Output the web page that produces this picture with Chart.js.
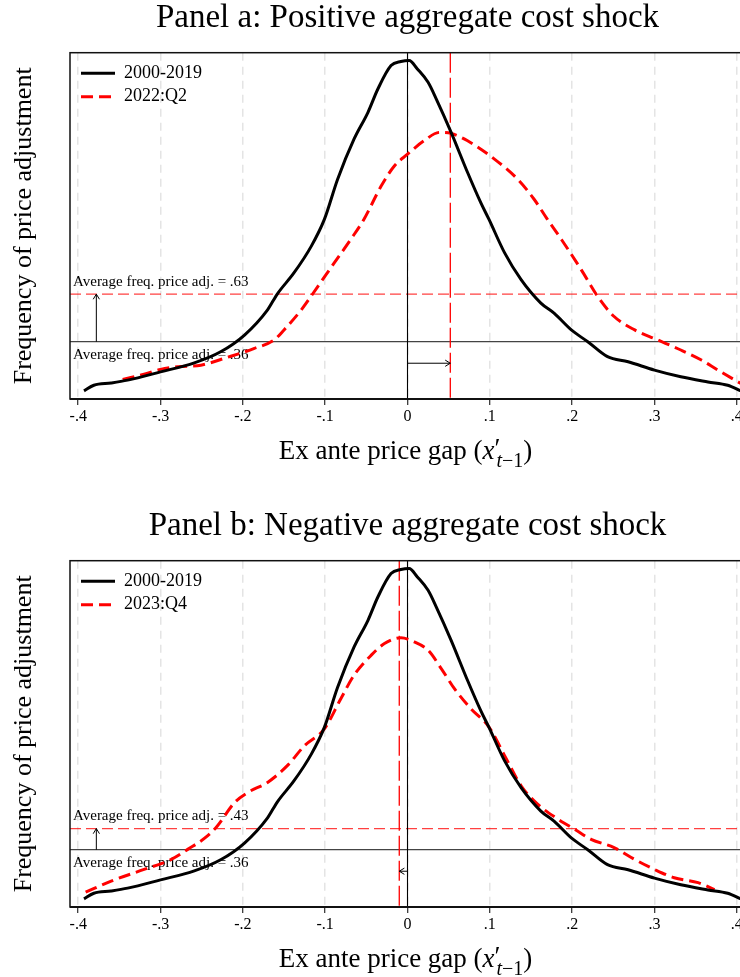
<!DOCTYPE html>
<html>
<head>
<meta charset="utf-8">
<script src="https://cdn.jsdelivr.net/npm/chart.js@4.4.1/dist/chart.umd.min.js"></script>
<style>
  html, body { margin: 0; padding: 0; background: #fff; }
  body { width: 740px; height: 977px; overflow: hidden; position: relative; }
  .panel { position: absolute; left: 0; width: 760px; height: 470px; }
</style>
</head>
<body>
<div class="panel" style="top:0"><canvas id="panelA" width="760" height="470"></canvas></div>
<div class="panel" style="top:508px"><canvas id="panelB" width="760" height="470"></canvas></div>
<script>
// 2000-2019 curve (same in both panels)
const baseX = [-0.393, -0.381, -0.360, -0.340, -0.300, -0.259, -0.227, -0.198, -0.170, -0.158, -0.138, -0.117, -0.101, -0.085, -0.065, -0.048, -0.036, -0.020, -0.008, 0.002, 0.012, 0.025, 0.035, 0.053, 0.073, 0.089, 0.099, 0.118, 0.138, 0.162, 0.178, 0.199, 0.219, 0.243, 0.268, 0.300, 0.332, 0.365, 0.389, 0.405];
const baseY = [0.081, 0.113, 0.126, 0.142, 0.189, 0.240, 0.303, 0.398, 0.541, 0.632, 0.750, 0.901, 1.054, 1.281, 1.509, 1.662, 1.794, 1.927, 1.950, 1.956, 1.908, 1.832, 1.737, 1.548, 1.320, 1.149, 1.054, 0.864, 0.712, 0.579, 0.522, 0.427, 0.360, 0.275, 0.246, 0.199, 0.161, 0.132, 0.113, 0.081];

// 2022:Q2 (panel a)
const q2X = [-0.346, -0.320, -0.300, -0.279, -0.251, -0.219, -0.186, -0.162, -0.150, -0.129, -0.109, -0.089, -0.069, -0.053, -0.032, -0.016, 0.000, 0.020, 0.039, 0.053, 0.073, 0.106, 0.134, 0.154, 0.170, 0.187, 0.211, 0.231, 0.251, 0.276, 0.304, 0.332, 0.357, 0.377, 0.405];
const q2Y = [0.146, 0.176, 0.203, 0.218, 0.227, 0.271, 0.322, 0.370, 0.427, 0.541, 0.673, 0.807, 0.940, 1.054, 1.243, 1.357, 1.424, 1.500, 1.548, 1.542, 1.500, 1.395, 1.281, 1.167, 1.054, 0.940, 0.769, 0.617, 0.503, 0.427, 0.370, 0.313, 0.256, 0.199, 0.123];

// 2023:Q4 (panel b)
const q4X = [-0.391, -0.360, -0.320, -0.287, -0.267, -0.243, -0.231, -0.210, -0.194, -0.170, -0.146, -0.125, -0.101, -0.081, -0.065, -0.044, -0.028, -0.008, 0.008, 0.025, 0.041, 0.057, 0.077, 0.099, 0.118, 0.138, 0.158, 0.183, 0.203, 0.223, 0.251, 0.276, 0.300, 0.324, 0.353, 0.373];
const q4Y = [0.119, 0.182, 0.248, 0.305, 0.362, 0.438, 0.495, 0.628, 0.685, 0.742, 0.837, 0.951, 1.046, 1.217, 1.350, 1.464, 1.530, 1.563, 1.540, 1.492, 1.388, 1.274, 1.160, 1.056, 0.894, 0.723, 0.619, 0.533, 0.476, 0.419, 0.372, 0.305, 0.248, 0.201, 0.173, 0.134];

const xTicks = [-0.4, -0.3, -0.2, -0.1, 0, 0.1, 0.2, 0.3, 0.4];
const xTickLabels = ["-.4", "-.3", "-.2", "-.1", "0", ".1", ".2", ".3", ".4"];

// y axis is unlabelled in the source: the average-frequency lines sit where they appear
const avgLevelsA = [0.36, 0.63];
const avgLevelsB = [0.36, 0.48];
const avgTextA = [".36", ".63"];
const avgTextB = [".36", ".43"];
const meanShiftA = 0.052;
const meanShiftB = -0.01;
const arrowX = -0.378;
const arrowY = 0.238;

const SERIF = '"Liberation Serif", "DejaVu Serif", serif';
const RED = "#ff0000";

function zip(xs, ys) {
  return xs.map((x, i) => ({ x: x, y: ys[i] }));
}

function drawArrow(ctx, x1, y1, x2, y2) {
  const ang = Math.atan2(y2 - y1, x2 - x1);
  const h = 6;
  ctx.beginPath();
  ctx.moveTo(x1, y1);
  ctx.lineTo(x2, y2);
  ctx.moveTo(x2 - h * Math.cos(ang - 0.55), y2 - h * Math.sin(ang - 0.55));
  ctx.lineTo(x2, y2);
  ctx.lineTo(x2 - h * Math.cos(ang + 0.55), y2 - h * Math.sin(ang + 0.55));
  ctx.stroke();
}

function overlay(cfg) {
  return {
    id: "overlay",
    beforeDatasetsDraw(chart) {
      const { ctx, chartArea: a, scales: { x, y } } = chart;
      const yBase = y.getPixelForValue(cfg.levels[0]);
      const yNew = y.getPixelForValue(cfg.levels[1]);
      ctx.save();
      // average frequency lines
      ctx.lineWidth = 1.2;
      ctx.strokeStyle = "#444";
      ctx.beginPath(); ctx.moveTo(a.left, yBase); ctx.lineTo(a.right, yBase); ctx.stroke();
      ctx.strokeStyle = "rgba(255,0,0,0.75)";
      ctx.setLineDash([11, 5]);
      ctx.beginPath(); ctx.moveTo(a.left, yNew); ctx.lineTo(a.right, yNew); ctx.stroke();
      // zero line and shifted mean
      ctx.setLineDash([]);
      ctx.strokeStyle = "#000";
      ctx.lineWidth = 1.1;
      const x0 = x.getPixelForValue(0);
      ctx.beginPath(); ctx.moveTo(x0, a.top); ctx.lineTo(x0, a.bottom); ctx.stroke();
      const xs = x.getPixelForValue(cfg.shift);
      ctx.strokeStyle = RED;
      ctx.lineWidth = 1.3;
      ctx.setLineDash([20, 5]);
      ctx.beginPath(); ctx.moveTo(xs, a.top); ctx.lineTo(xs, a.bottom); ctx.stroke();
      ctx.setLineDash([]);
      // arrows
      ctx.strokeStyle = "#000";
      ctx.lineWidth = 1;
      const xa = x.getPixelForValue(arrowX);
      drawArrow(ctx, xa, yBase, xa, yNew);
      const ya = y.getPixelForValue(arrowY);
      drawArrow(ctx, x0, ya, xs, ya);
      // labels
      ctx.fillStyle = "#000";
      ctx.font = "15px " + SERIF;
      ctx.textBaseline = "middle";
      ctx.textAlign = "left";
      ctx.fillText("Average freq. price adj. = " + cfg.texts[1], a.left + 3, yNew - 12.5);
      ctx.fillText("Average freq. price adj. = " + cfg.texts[0], a.left + 3, yBase + 13.5);
      ctx.restore();
    },
    afterDraw(chart) {
      const { ctx, chartArea: a } = chart;
      const cx = (a.left + a.right) / 2;
      ctx.save();
      // panel title, centred over the plot region
      ctx.fillStyle = "#000";
      ctx.font = "33px " + SERIF;
      ctx.textAlign = "center";
      ctx.textBaseline = "middle";
      ctx.fillText(cfg.title, cx, a.top - 34);
      // plot frame
      ctx.strokeStyle = "#111";
      ctx.lineWidth = 1.5;
      ctx.strokeRect(a.left, a.top, a.right - a.left, a.bottom - a.top);
      ctx.lineWidth = 2;
      ctx.beginPath(); ctx.moveTo(a.left, a.bottom); ctx.lineTo(a.right, a.bottom); ctx.stroke();
      // legend
      ctx.font = "18px " + SERIF;
      ctx.textAlign = "left";
      chart.data.datasets.forEach((ds, i) => {
        const yy = a.top + 20.6 + i * 23.4;
        ctx.strokeStyle = ds.borderColor;
        ctx.lineWidth = 3;
        ctx.setLineDash(ds.borderDash || []);
        ctx.beginPath(); ctx.moveTo(a.left + 11, yy); ctx.lineTo(a.left + 45, yy); ctx.stroke();
        ctx.setLineDash([]);
        ctx.fillStyle = "#000";
        ctx.fillText(ds.label, a.left + 54, yy);
      });
      // x axis title with math
      const cy = a.bottom + 51;
      const parts = [
        { t: "Ex ante price gap (", f: "27px " + SERIF, dy: 0 },
        { t: "x", f: "italic 27px " + SERIF, dy: 0 },
        { t: "\u2032", f: "27px " + SERIF, dy: -2 },
        { t: "t", f: "italic 20px " + SERIF, dy: 8 },
        { t: "\u22121", f: "20px " + SERIF, dy: 8 },
        { t: ")", f: "27px " + SERIF, dy: 0 },
      ];
      let total = 0;
      parts.forEach((p) => { ctx.font = p.f; p.w = ctx.measureText(p.t).width; total += p.w; });
      let px = cx - total / 2;
      ctx.textBaseline = "alphabetic";
      parts.forEach((p) => {
        ctx.font = p.f;
        ctx.fillText(p.t, px, cy + 9 + p.dy);
        px += p.w - (p.t === "\u2032" ? 4 : 0);
      });
      ctx.restore();
    },
  };
}

function makePanel(canvas, datasets, cfg) {
  return new Chart(canvas, {
    type: "scatter",
    data: { datasets: datasets },
    options: {
      responsive: false,
      animation: false,
      layout: { padding: { left: 0, right: 15, top: 52.7, bottom: 0 } },
      plugins: {
        legend: { display: false },
        tooltip: { enabled: false },
        title: { display: false },
      },
      scales: {
        x: {
          type: "linear",
          min: -0.41,
          max: 0.41,
          afterBuildTicks: (s) => { s.ticks = xTicks.map((v) => ({ value: v })); },
          afterFit: (s) => { s.height = 71; },
          ticks: {
            color: "#000",
            font: { family: SERIF, size: 16 },
            padding: 2,
            maxRotation: 0,
            callback: (v, i) => xTickLabels[i],
          },
          grid: { color: "#e4e4e4", lineWidth: 1.5, tickLength: 6, tickColor: "#000", tickWidth: 1 },
          border: { display: false, dash: [8, 6] },
        },
        y: {
          min: 0.035,
          max: 2.0,
          afterFit: (s) => { s.width = 70; },
          ticks: { display: false },
          grid: { display: false },
          border: { display: false },
          title: {
            display: true,
            text: "Frequency of price adjustment",
            color: "#000",
            font: { family: SERIF, size: 26 },
            padding: { top: 9, bottom: 0 },
          },
        },
      },
    },
    plugins: [overlay(cfg)],
  });
}

const lineStyle = { showLine: true, pointRadius: 0, borderWidth: 3, cubicInterpolationMode: "monotone", fill: false };

makePanel(
  document.getElementById("panelA"),
  [
    Object.assign({ label: "2000-2019", data: zip(baseX, baseY), borderColor: "#000" }, lineStyle),
    Object.assign({ label: "2022:Q2", data: zip(q2X, q2Y), borderColor: RED, borderDash: [12, 6] }, lineStyle),
  ],
  { title: "Panel a: Positive aggregate cost shock", levels: avgLevelsA, texts: avgTextA, shift: meanShiftA }
);

makePanel(
  document.getElementById("panelB"),
  [
    Object.assign({ label: "2000-2019", data: zip(baseX, baseY), borderColor: "#000" }, lineStyle),
    Object.assign({ label: "2023:Q4", data: zip(q4X, q4Y), borderColor: RED, borderDash: [12, 6] }, lineStyle),
  ],
  { title: "Panel b: Negative aggregate cost shock", levels: avgLevelsB, texts: avgTextB, shift: meanShiftB }
);
</script>
</body>
</html>
